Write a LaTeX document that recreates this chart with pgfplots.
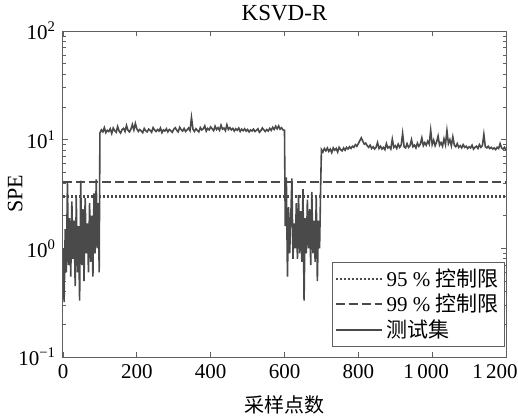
\documentclass[border=0pt]{standalone}
\usepackage{fontspec}
\setmainfont{Liberation Serif}
\newfontfamily\cjk{Noto Sans CJK SC}
\usepackage{pgfplots}
\pgfplotsset{compat=1.18}
\definecolor{ln}{HTML}{4A4A4A}
\definecolor{ax}{HTML}{606060}
\begin{document}
\begin{tikzpicture}
\useasboundingbox (-31.5pt,-31pt) rectangle (227.5pt,178.5pt);
\begin{axis}[
  at={(0pt,0pt)}, anchor=south west,
  scale only axis, width=221.5pt, height=163pt,
  xmin=0, xmax=1200, ymin=0.1, ymax=100, ymode=log,
  axis line style={ax, line width=0.5pt},
  every tick/.style={ax, line width=0.4pt},
  major tick length=2.5pt, minor tick length=1.3pt,
  tick align=inside,
  xtick={0,200,400,600,800,1000,1200},
  xticklabels={0,200,400,600,800,{1\,000\hspace*{6pt}},{1\,200\hspace*{11pt}}},
  ytick={0.1,1,10,100},
  yticklabels={{10\textsuperscript{−1}},{10\textsuperscript{0}},{10\textsuperscript{1}},{10\textsuperscript{2}}},
  minor ytick={0.2,0.3,0.4,0.5,0.6,0.7,0.8,0.9,2,3,4,5,6,7,8,9,20,30,40,50,60,70,80,90},
  tick label style={font=\fontsize{10.5}{12}\selectfont, black},
  title={KSVD-R},
  title style={font=\fontsize{11.5}{13}\selectfont, yshift=-4.5pt},
  xlabel={\cjk 采样点数},
  xlabel style={font=\fontsize{10}{12}\selectfont, at={(rel axis cs:0.5,0)}, anchor=center, yshift=-24pt},
  ylabel={SPE},
  ylabel style={font=\fontsize{11}{13}\selectfont, at={(rel axis cs:-0.108,0.5)}, anchor=center},
  legend style={at={(0.998,0.031)}, anchor=south east, draw=ax, fill=white,
    font=\fontsize{10.5}{12}\selectfont, inner sep=1pt, row sep=-1.5pt, line width=0.5pt},
  legend cell align=left,
  legend image code/.code={\draw[#1] (0pt,0pt) -- (23pt,0pt);},
]
\addplot[ln, line width=1.1pt, dash pattern=on 1pt off 1pt] coordinates {(0,3.0) (1200,3.0)};
\addlegendentry{95 \% {\cjk 控制限}}
\addplot[ln, line width=1.1pt, dash pattern=on 4.5pt off 2pt] coordinates {(0,4.1) (1200,4.1)};
\addlegendentry{99 \% {\cjk 控制限}}
\addplot[ln, line width=0.8pt] table {
x y
0 1.0
3 0.32
6 1.5
9 0.6
12 4.0
15 0.7
18 1.9
21 0.55
24 2.7
27 0.8
30 1.8
33 0.45
36 2.9
39 0.6
42 1.6
45 0.33
48 4.2
51 0.7
54 2.3
57 0.5
60 2.9
63 0.9
66 1.7
69 0.6
72 2.6
75 0.75
78 2.0
81 0.55
84 3.2
87 0.9
90 4.3
93 1.0
96 2.6
98 0.6
100 11.5
104 12.3
108 11.8
112 12.9
116 11.6
120 12.2
124 11.9
128 12.6
132 11.4
136 12.8
140 12.1
144 11.7
148 13.2
152 12.0
156 11.5
160 12.4
164 12.7
168 11.9
172 13.5
176 12.2
180 11.8
184 12.5
188 13.8
192 12.3
196 14.1
200 12.6
204 11.9
208 12.4
212 12.0
216 11.6
220 12.7
224 12.1
228 11.8
232 12.5
236 12.2
240 11.7
244 12.9
248 12.3
252 11.9
256 12.4
260 12.0
264 12.8
268 11.6
272 12.3
276 12.0
280 12.6
284 11.8
288 12.4
292 12.1
296 11.7
300 12.5
304 12.9
308 12.2
312 11.8
316 13.0
320 12.4
324 12.0
328 12.7
332 11.9
336 12.3
340 12.8
344 12.1
348 16.0
352 12.5
356 11.9
360 12.6
364 12.2
368 11.8
372 12.9
376 12.3
380 12.6
384 13.4
388 12.0
392 12.7
396 12.3
400 13.1
404 12.6
408 12.1
412 13.3
416 12.4
420 12.9
424 12.2
428 13.6
432 12.5
436 12.8
440 12.1
444 13.7
448 12.4
452 12.9
456 12.3
460 12.7
464 12.0
468 12.6
472 12.2
476 12.8
480 11.9
484 12.5
488 12.1
492 12.6
496 12.0
500 12.4
504 11.8
508 12.3
512 12.0
516 12.5
520 11.9
524 12.2
528 12.6
532 11.7
536 12.1
540 12.8
544 12.3
548 11.9
552 12.4
556 12.0
560 12.7
564 12.2
568 13.0
572 12.4
576 13.3
580 12.6
584 13.4
588 12.5
592 12.9
596 12.3
600 12.2
602 1.6
605 4.5
608 0.55
611 2.4
614 0.9
617 1.9
620 4.4
623 0.8
626 1.7
629 1.0
632 2.6
635 0.8
638 3.1
641 0.9
644 2.2
647 0.75
650 3.5
653 0.33
656 1.9
659 0.9
662 2.8
665 1.0
668 2.3
671 0.7
674 3.3
677 0.9
680 1.8
683 0.75
686 2.9
689 0.5
692 1.8
695 1.0
698 3.8
700 8.1
704 7.7
708 8.3
712 7.9
716 8.4
720 7.8
724 8.2
728 7.6
732 8.4
736 8.0
740 8.3
744 7.7
748 8.5
752 8.1
756 7.9
760 8.4
764 8.0
768 8.5
772 8.2
776 8.6
780 8.3
784 8.7
788 8.5
792 9.0
796 8.7
800 9.2
804 9.8
808 10.4
812 9.7
816 9.1
820 9.3
824 8.8
828 8.5
832 8.9
836 8.3
840 8.6
844 8.2
848 8.5
852 9.4
856 8.3
860 8.7
864 8.2
868 8.5
872 8.1
876 9.2
880 8.4
884 8.6
888 8.2
892 10.1
896 8.5
900 8.8
904 8.3
908 9.1
912 8.5
916 8.9
920 11.4
924 8.6
928 8.4
932 9.2
936 8.5
940 8.8
944 10.0
948 8.6
952 8.9
956 8.4
960 9.3
964 8.7
968 9.1
972 10.4
976 8.8
980 9.4
984 8.9
988 9.7
992 9.1
996 12.2
1000 9.0
1004 9.9
1008 8.8
1012 9.5
1016 10.8
1020 8.9
1024 9.4
1028 8.7
1032 10.2
1036 9.0
1040 12.1
1044 9.2
1048 10.0
1052 8.8
1056 10.6
1060 8.9
1064 8.6
1068 9.2
1072 8.5
1076 8.8
1080 8.4
1084 9.0
1088 8.5
1092 8.7
1096 8.3
1100 8.6
1104 8.4
1108 8.9
1112 8.2
1116 8.5
1120 8.7
1124 8.3
1128 9.0
1132 8.5
1136 8.8
1140 11.2
1144 8.6
1148 8.4
1152 8.7
1156 8.3
1160 8.5
1164 8.2
1168 8.4
1172 8.1
1176 8.5
1180 8.3
1184 9.2
1188 8.4
1192 8.2
1196 8.5
1200 8.0
};
\addlegendentry{\cjk 测试集}
\end{axis}
\end{tikzpicture}
\end{document}
